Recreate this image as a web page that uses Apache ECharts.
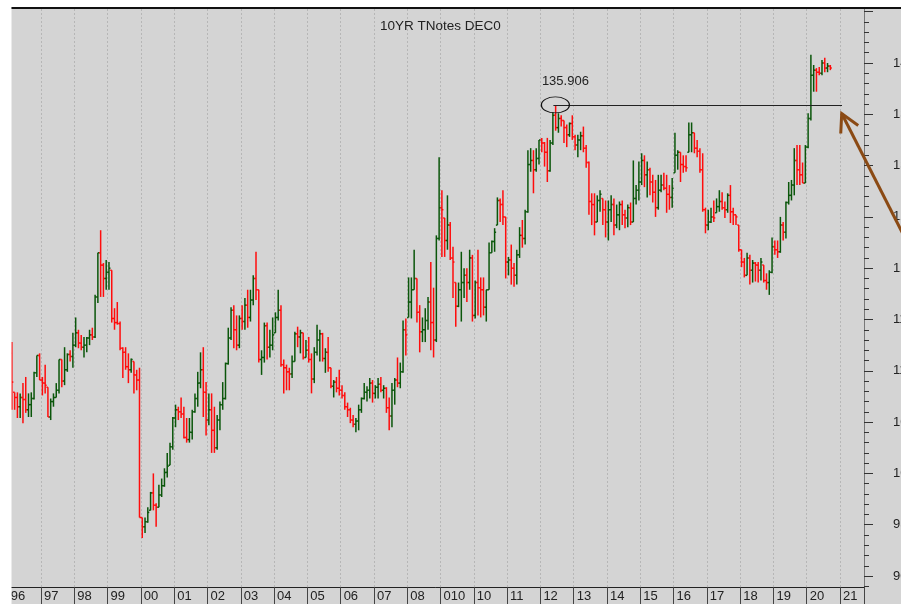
<!DOCTYPE html>
<html>
<head>
<meta charset="utf-8">
<title>10YR TNotes DEC0</title>
<script src="https://cdn.jsdelivr.net/npm/echarts@6/dist/echarts.min.js"></script>
<style>
  html, body { margin: 0; padding: 0; background: #fff; }
  #chart { width: 901px; height: 604px; }
</style>
</head>
<body>
<div id="chart"></div>
<script>
// monthly bars, first bar = Feb 1996, one row per year
const startYear = 1996
const startMonth = 1
const firstOpen = 111.7

const closes = [
  [108.9, 107.4, 106.5, 107.4, 107.2, 106.2, 106.7, 107.3, 109.8, 111.5, 109.1],
  [108.8, 108.6, 105.5, 107.0, 107.4, 108.1, 111.1, 109.0, 110.1, 111.6, 111.4, 112.5],
  [113.7, 112.7, 112.3, 112.5, 113.2, 113.5, 113.3, 117.2, 121.5, 120.3, 119.0, 119.6],
  [120.0, 115.1, 114.7, 114.6, 112.2, 111.8, 110.4, 110.1, 111.1, 109.6, 109.1, 95.7],
  [94.8, 95.3, 96.2, 98.1, 96.9, 96.7, 97.9, 98.8, 100.1, 100.7, 102.6, 105.4],
  [106.2, 106.0, 105.8, 103.5, 103.3, 104.0, 106.0, 107.3, 108.8, 110.1, 107.9, 105.2],
  [106.2, 104.2, 102.5, 105.2, 106.7, 107.3, 110.7, 113.2, 115.9, 114.0, 112.5, 115.1],
  [114.8, 116.4, 115.2, 116.9, 119.0, 117.9, 111.1, 111.3, 114.4, 112.3, 112.5, 113.5],
  [115.2, 115.9, 110.6, 110.3, 109.9, 109.7, 110.9, 113.6, 113.3, 113.7, 111.3, 112.0],
  [111.1, 109.2, 111.8, 113.0, 113.6, 111.2, 111.8, 110.3, 108.5, 108.9, 108.3, 108.1],
  [107.6, 106.5, 106.2, 105.2, 104.8, 105.1, 106.2, 107.3, 107.9, 108.1, 108.8, 107.8],
  [108.4, 108.7, 108.1, 108.3, 106.4, 105.6, 108.1, 109.1, 108.8, 109.9, 114.0, 113.5],
  [116.7, 117.9, 119.0, 115.7, 113.8, 114.0, 114.9, 116.7, 114.7, 113.0, 122.9, 125.9],
  [125.7, 122.7, 124.2, 121.0, 120.6, 116.3, 117.9, 118.6, 119.3, 118.6, 121.0, 115.4],
  [118.6, 118.1, 117.9, 116.2, 117.9, 121.5, 122.6, 123.5, 126.6, 126.2, 125.0, 120.6],
  [120.8, 120.0, 119.3, 121.3, 123.2, 122.9, 125.5, 130.1, 130.5, 129.6, 130.7, 132.5],
  [132.2, 131.3, 129.5, 132.2, 134.9, 133.7, 134.6, 134.4, 133.7, 133.0, 134.1, 132.8],
  [132.0, 132.5, 132.9, 131.7, 130.3, 126.5, 126.2, 124.5, 126.6, 127.2, 125.7, 124.5],
  [125.7, 126.2, 124.2, 125.2, 126.2, 125.2, 124.9, 125.9, 124.5, 126.8, 127.6, 128.4],
  [130.5, 129.1, 129.6, 128.4, 127.4, 125.9, 127.6, 128.1, 127.8, 127.2, 126.9, 127.8],
  [131.0, 131.3, 130.1, 129.9, 129.8, 133.0, 133.2, 131.7, 131.4, 129.6, 125.7, 124.2],
  [124.5, 125.0, 124.9, 126.0, 126.5, 125.9, 125.7, 127.1, 125.5, 125.2, 125.0, 121.8],
  [120.6, 119.3, 121.0, 119.8, 120.5, 120.3, 119.8, 120.6, 118.8, 118.6, 119.6, 122.1],
  [121.8, 121.6, 124.2, 123.5, 126.4, 127.1, 128.1, 130.5, 129.6, 129.1, 128.3, 131.8],
  [134.6, 138.8, 139.3, 139.1, 139.0, 140.0, 139.5, 139.7, 139.5]
]

const highs = [
  [112.8, 107.9, 107.9, 107.8, 108.8, 109.4, 107.8, 107.9, 109.9, 111.5, 111.7],
  [109.4, 110.6, 108.4, 107.3, 107.8, 108.8, 111.1, 111.1, 112.3, 111.7, 112.0, 113.7],
  [115.2, 114.0, 113.5, 113.3, 113.3, 114.0, 114.2, 117.4, 121.5, 123.7, 120.5, 120.8],
  [120.6, 119.8, 116.1, 116.7, 114.8, 112.3, 112.3, 111.7, 111.2, 110.9, 110.1, 110.3],
  [95.7, 95.7, 96.7, 98.2, 100.0, 97.1, 98.9, 99.5, 100.5, 102.0, 103.0, 105.5],
  [106.7, 106.5, 107.4, 106.5, 105.4, 105.4, 106.2, 107.8, 109.9, 111.8, 112.3, 108.9],
  [107.8, 107.8, 106.5, 105.7, 107.0, 108.9, 110.8, 114.2, 116.2, 116.4, 115.4, 115.4],
  [116.4, 117.1, 117.9, 117.9, 119.3, 121.6, 117.9, 112.0, 114.7, 114.7, 114.0, 115.2],
  [115.7, 117.9, 116.4, 111.1, 110.6, 110.3, 111.5, 113.8, 114.3, 114.0, 113.7, 113.0],
  [113.3, 111.7, 112.3, 114.5, 114.0, 113.7, 112.2, 113.3, 110.3, 109.1, 109.4, 110.1],
  [108.6, 107.9, 106.9, 106.4, 105.7, 105.4, 106.7, 107.4, 108.8, 108.5, 109.3, 109.1],
  [108.6, 109.3, 109.4, 108.6, 108.4, 107.4, 108.8, 109.3, 111.3, 110.8, 114.9, 115.1],
  [119.1, 119.1, 121.8, 119.0, 116.4, 115.2, 116.1, 117.2, 120.6, 118.1, 123.2, 130.8],
  [127.6, 124.9, 127.1, 124.5, 122.1, 118.6, 118.6, 121.6, 120.0, 120.0, 121.8, 121.3],
  [118.8, 121.8, 119.1, 119.1, 117.9, 122.5, 122.7, 123.9, 126.9, 126.8, 127.6, 125.0],
  [121.1, 122.3, 120.5, 121.8, 124.0, 124.7, 125.7, 131.5, 131.7, 131.5, 131.7, 132.5],
  [132.7, 132.3, 132.7, 132.5, 135.2, 135.906, 135.1, 134.9, 134.4, 134.0, 134.2, 134.9],
  [133.0, 133.0, 133.3, 133.8, 132.0, 130.4, 127.3, 127.3, 127.1, 127.6, 126.8, 126.6],
  [126.6, 127.1, 126.8, 126.2, 126.5, 126.6, 125.7, 126.2, 126.4, 130.5, 128.1, 130.4],
  [131.2, 131.0, 130.4, 129.8, 129.1, 128.6, 129.1, 129.1, 129.3, 129.1, 128.1, 128.8],
  [133.2, 131.5, 131.3, 131.0, 131.0, 134.2, 134.2, 133.2, 132.5, 131.7, 131.2, 125.9],
  [125.7, 125.9, 126.6, 126.8, 127.6, 127.4, 126.5, 127.3, 128.1, 125.9, 125.2, 124.2],
  [121.8, 121.0, 121.5, 121.3, 120.8, 120.6, 120.6, 121.0, 120.3, 119.5, 119.8, 123.0],
  [122.7, 122.7, 125.0, 124.5, 126.5, 128.4, 128.6, 131.7, 132.0, 132.0, 130.3, 132.0],
  [135.1, 140.8, 139.8, 139.5, 139.6, 140.3, 140.5, 140.0, 139.8]
]

const lows = [
  [106.2, 106.2, 105.4, 105.4, 104.9, 105.9, 105.5, 105.5, 107.2, 109.4, 109.1],
  [107.6, 107.8, 105.5, 105.2, 106.5, 107.4, 107.8, 108.4, 108.6, 109.9, 110.9, 110.3],
  [112.3, 112.2, 112.0, 111.3, 111.8, 112.5, 113.0, 113.2, 116.6, 117.2, 117.2, 117.9],
  [117.9, 114.7, 114.0, 114.5, 112.0, 109.3, 110.1, 108.8, 109.8, 107.8, 108.1, 95.7],
  [93.7, 94.2, 95.2, 96.4, 96.4, 94.8, 96.7, 97.7, 98.7, 99.6, 100.8, 102.3],
  [104.5, 105.2, 105.4, 103.4, 103.0, 103.0, 103.3, 105.9, 106.5, 108.3, 105.5, 103.7],
  [104.7, 102.0, 102.0, 102.3, 104.2, 106.2, 107.2, 110.6, 113.0, 112.2, 112.0, 112.2],
  [114.0, 114.0, 114.2, 114.8, 116.4, 116.9, 110.8, 109.6, 110.8, 111.1, 111.3, 112.0],
  [113.7, 114.9, 110.4, 107.8, 108.1, 108.1, 109.3, 110.9, 112.3, 111.7, 111.1, 111.3],
  [110.8, 107.8, 108.8, 111.5, 110.9, 110.9, 109.8, 109.9, 108.3, 107.4, 107.9, 107.6],
  [107.3, 106.2, 105.5, 104.9, 104.5, 104.0, 104.2, 105.9, 107.2, 107.0, 107.3, 106.9],
  [107.3, 107.3, 107.9, 107.3, 105.9, 104.2, 104.5, 106.7, 108.4, 108.3, 109.8, 111.5],
  [115.2, 115.1, 117.9, 114.7, 111.8, 112.8, 112.8, 114.0, 112.0, 111.3, 112.8, 122.7],
  [121.1, 121.1, 121.8, 120.8, 117.1, 114.3, 116.2, 114.8, 117.1, 116.7, 117.9, 114.8],
  [115.1, 115.4, 115.2, 115.4, 114.8, 117.9, 121.5, 121.6, 124.2, 124.5, 124.2, 119.0],
  [119.3, 118.4, 118.2, 118.4, 121.0, 122.0, 122.3, 125.4, 129.4, 127.3, 129.4, 130.1],
  [131.3, 129.9, 128.4, 129.4, 132.0, 133.4, 133.2, 133.8, 132.2, 131.8, 132.8, 132.5],
  [131.5, 130.8, 131.5, 131.3, 129.8, 125.2, 124.2, 123.2, 124.5, 125.5, 124.2, 123.0],
  [122.7, 124.5, 123.2, 123.9, 123.7, 124.2, 123.9, 124.0, 124.2, 124.5, 126.2, 126.6],
  [128.1, 127.9, 126.9, 127.1, 126.4, 125.0, 125.7, 127.4, 127.6, 125.4, 125.7, 125.9],
  [129.3, 129.6, 128.4, 129.3, 129.4, 131.3, 131.3, 131.2, 130.8, 129.3, 125.5, 123.4],
  [123.7, 124.4, 124.5, 125.4, 125.5, 125.7, 124.9, 125.4, 124.4, 124.2, 124.2, 121.6],
  [120.1, 119.1, 119.3, 118.4, 118.6, 118.7, 118.6, 118.8, 118.6, 117.9, 117.4, 119.5],
  [121.3, 121.0, 121.5, 122.7, 122.9, 126.2, 126.6, 127.1, 128.1, 128.1, 128.3, 128.3],
  [131.7, 134.4, 137.2, 137.2, 138.8, 138.8, 139.1, 139.1, 139.3]
]

// x轴年份标签（原图 09 处显示为 "010"）
const yearLabels = ['96', '97', '98', '99', '00', '01', '02', '03', '04', '05', '06', '07', '08',
  '010', '10', '11', '12', '13', '14', '15', '16', '17', '18', '19', '20', '21']
const priceTicks = [90, 95, 100, 105, 110, 115, 120, 125, 130, 135, 140, 145]
const priceLabels = [90, 95, 100, 105, 110, 115, 120, 125, 130, 135, 140]

// 标注：2012 高点
const peakValue = 135.906
const peakYear = 2012.45
const lineStartYear = 2012.39
const lineEndYear = 2021.06

const yMin = 88.93
const yMax = 145.26
const font = '"Liberation Sans", Arial, sans-serif'

// 组装 OHLC，开盘取上月收盘（限制在当月高低之间）
const bars = []
let prev = firstOpen
let monthIdx = startMonth
closes.forEach(function (row, yi) {
  row.forEach(function (c, mi) {
    const h = Math.max(highs[yi][mi], c)
    const l = Math.min(lows[yi][mi], c)
    const o = Math.min(Math.max(prev, l), h)
    bars.push([startYear + (monthIdx + 0.5) / 12, o, h, l, c])
    prev = c
    monthIdx++
  })
})

const minorTicks = []
for (let v = 89; v <= 145; v++) minorTicks.push(v)

function renderBar(params, api) {
  const x = api.value(0)
  const o = api.value(1)
  const c = api.value(4)
  const top = api.coord([x, api.value(2)])
  const bot = api.coord([x, api.value(3)])
  const po = api.coord([x, o])
  const pc = api.coord([x, c])
  const color = c >= o ? '#0a560a' : '#ff0c0c'
  const w = 1.5
  const lw = 1.5
  return {
    type: 'group',
    children: [
      { type: 'line', shape: { x1: top[0], y1: top[1], x2: bot[0], y2: bot[1] }, style: { stroke: color, lineWidth: lw } },
      { type: 'line', shape: { x1: po[0] - w, y1: po[1], x2: po[0], y2: po[1] }, style: { stroke: color, lineWidth: lw } },
      { type: 'line', shape: { x1: pc[0], y1: pc[1], x2: pc[0] + w, y2: pc[1] }, style: { stroke: color, lineWidth: lw } }
    ]
  }
}

const chart = echarts.init(document.getElementById('chart'))

chart.setOption({
  animation: false,
  backgroundColor: '#d4d4d4',
  title: {
    text: '10YR TNotes DEC0',
    left: 375,
    top: 14,
    textStyle: { fontSize: 13.5, fontWeight: 'normal', color: '#222', fontFamily: font }
  },
  grid: { left: 7.7, right: 37, top: 9, bottom: 17, outerBoundsMode: 'none', containLabel: false },
  xAxis: {
    type: 'value',
    min: 1996,
    max: 2021.72,
    interval: 1,
    axisLine: { show: true, onZero: false, lineStyle: { color: '#222', width: 1 } },
    axisTick: { show: true, length: 17, lineStyle: { color: '#444', width: 1 } },
    axisLabel: {
      show: true,
      align: 'left',
      padding: [0, 0, 0, 3],
      margin: 3,
      fontSize: 13,
      color: '#222',
      fontFamily: font,
      hideOverlap: false,
      formatter: function (v) {
        const y = Math.round(v)
        if (Math.abs(v - y) > 1e-6) return ''
        return yearLabels[y - startYear] || ''
      }
    },
    splitLine: { show: true, lineStyle: { color: '#b6b6b6', type: [2, 2], width: 1 } }
  },
  yAxis: [
    {
      type: 'value',
      position: 'right',
      min: yMin,
      max: yMax,
      axisLine: { show: true, lineStyle: { color: '#777', width: 1 } },
      axisTick: { show: true, customValues: priceTicks, length: 9, lineStyle: { color: '#333', width: 1 } },
      axisLabel: { show: true, customValues: priceLabels, margin: 29, fontSize: 13, color: '#222', fontFamily: font },
      splitLine: { show: false }
    },
    {
      type: 'value',
      position: 'right',
      min: yMin,
      max: yMax,
      axisLine: { show: false },
      axisTick: { show: true, customValues: minorTicks, length: 5, lineStyle: { color: '#333', width: 1 } },
      axisLabel: { show: false },
      splitLine: { show: false }
    }
  ],
  series: [
    {
      type: 'custom',
      name: 'TNotes',
      renderItem: renderBar,
      encode: { x: 0, y: [1, 2, 3, 4] },
      data: bars,
      clip: true,
      z: 2
    },
    {
      type: 'line',
      name: 'peak',
      data: [],
      z: 3,
      markLine: {
        silent: true,
        symbol: ['none', 'none'],
        lineStyle: { color: '#222', width: 1, type: 'solid' },
        label: { show: false },
        data: [[{ coord: [lineStartYear, peakValue] }, { coord: [lineEndYear, peakValue] }]]
      },
      markPoint: {
        silent: true,
        data: [{
          coord: [peakYear, peakValue],
          symbol: 'circle',
          symbolSize: [28, 16],
          itemStyle: { color: 'rgba(0,0,0,0)', borderColor: '#111', borderWidth: 1 },
          label: {
            show: true,
            position: 'inside',
            offset: [10, -24],
            formatter: String(peakValue),
            fontSize: 13,
            color: '#222',
            fontFamily: font
          }
        }]
      }
    }
  ],
  graphic: [
    { id: 'leftStrip', type: 'rect', z: 100, shape: { x: 0, y: 0, width: 11.5, height: 604 }, style: { fill: '#fff' } },
    { id: 'topStrip', type: 'rect', z: 100, shape: { x: 0, y: 0, width: 901, height: 7 }, style: { fill: '#fff' } },
    { id: 'topLine', type: 'rect', z: 100, shape: { x: 11.5, y: 7, width: 890, height: 2 }, style: { fill: '#111' } }
  ]
})

// 棕色箭头指向横线末端
const tip = chart.convertToPixel({ gridIndex: 0 }, [lineEndYear, peakValue])
const tx = tip[0] - 0.3
const ty = tip[1] + 8.5
chart.setOption({
  graphic: [
    {
      id: 'arrowShaft', type: 'polyline', z: 90,
      shape: { points: [[tx, ty], [tx + 62, ty + 122]] },
      style: { stroke: '#8b4a14', lineWidth: 3, fill: null }
    },
    {
      id: 'arrowHead', type: 'polyline', z: 90,
      shape: { points: [[tx - 1, ty + 20], [tx, ty], [tx + 16.5, ty + 12]] },
      style: { stroke: '#8b4a14', lineWidth: 3, fill: null, lineJoin: 'miter' }
    }
  ]
})
</script>
</body>
</html>
